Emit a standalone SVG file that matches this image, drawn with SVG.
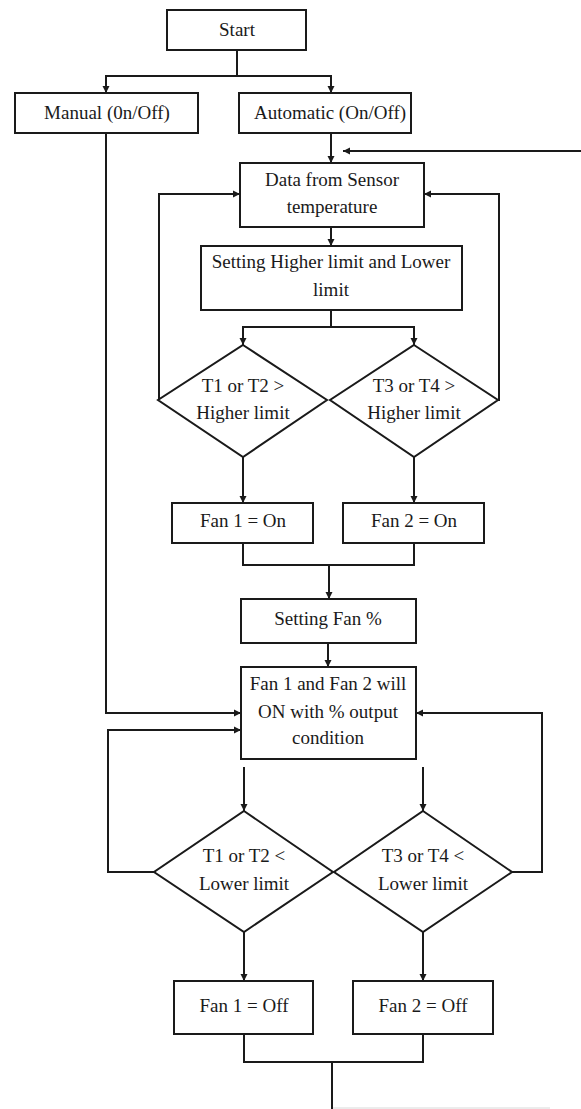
<svg xmlns="http://www.w3.org/2000/svg" width="581" height="1109" viewBox="0 0 581 1109">
<style>
.n rect, .n polygon { fill: #fff; stroke: #1a1a1a; stroke-width: 2; }
.n text { font-family: "Liberation Serif", "Times New Roman", serif; font-size: 19px; fill: #1a1a1a; text-anchor: middle; }
#connectors path { fill: none; stroke: #1a1a1a; stroke-width: 2; }
#connectors path.a { marker-end: url(#arr); }
</style>
<defs>
<marker id="arr" markerUnits="userSpaceOnUse" markerWidth="8" markerHeight="8" refX="7" refY="4" orient="auto">
<path d="M0,0.5 L7,4 L0,7.5 z" fill="#1a1a1a"/>
</marker>
</defs>
<rect width="581" height="1109" fill="#fff"/>
<g id="connectors">
<path class="a" d="M237,50 V76 H106 V93"/>
<path class="a" d="M237,76 H331 V93"/>
<path class="a" d="M106,133 V713 H241"/>
<path class="a" d="M331,133 V163"/>
<path class="a" d="M581,151 H343"/>
<path class="a" d="M331,227 V246"/>
<path class="a" d="M331,310 V327 H243 V345"/>
<path class="a" d="M331,327 H414 V345"/>
<path class="a" d="M159,400 V194 H240"/>
<path class="a" d="M498,400 H499 V194 H424"/>
<path class="a" d="M243,457 V503"/>
<path class="a" d="M414,457 V503"/>
<path d="M243,543 V565 H414 V543"/>
<path class="a" d="M329,565 V599"/>
<path class="a" d="M328,643 V667"/>
<path class="a" d="M244,767 V811"/>
<path class="a" d="M423,767 V811"/>
<path class="a" d="M154,872 H108 V730 H241"/>
<path class="a" d="M512,872 H542 V713 H416"/>
<path class="a" d="M244,932 V981"/>
<path class="a" d="M423,932 V981"/>
<path d="M244,1034 V1062 H423 V1034"/>
<path d="M332,1062 V1109"/>
<path d="M333,1108 H550" style="stroke:#d8d8d8;stroke-width:1"/>
</g>
<g id="start" class="n"><rect x="167" y="10" width="139" height="40"/><text x="237" y="36">Start</text></g>
<g id="manual" class="n"><rect x="15" y="93" width="183" height="40"/><text x="107" y="119">Manual (0n/Off)</text></g>
<g id="automatic" class="n"><rect x="239" y="93" width="172" height="40"/><text x="330" y="119">Automatic (On/Off)</text></g>
<g id="data" class="n"><rect x="240" y="163" width="184" height="64"/><text x="332" y="186">Data from Sensor</text><text x="332" y="213">temperature</text></g>
<g id="setting" class="n"><rect x="201" y="246" width="261" height="64"/><text x="331" y="268">Setting Higher limit and Lower</text><text x="331" y="296">limit</text></g>
<g id="d1" class="n"><polygon points="243,345 327,400 243,457 158,400"/><text x="243" y="392">T1 or T2 &gt;</text><text x="243" y="419">Higher limit</text></g>
<g id="d2" class="n"><polygon points="414,345 498,400 414,457 330,400"/><text x="414" y="392">T3 or T4 &gt;</text><text x="414" y="419">Higher limit</text></g>
<g id="fan1on" class="n"><rect x="172" y="503" width="141" height="40"/><text x="243" y="527">Fan 1 = On</text></g>
<g id="fan2on" class="n"><rect x="343" y="503" width="141" height="40"/><text x="414" y="527">Fan 2 = On</text></g>
<g id="settingfan" class="n"><rect x="241" y="599" width="175" height="44"/><text x="328" y="625">Setting Fan %</text></g>
<g id="fanboth" class="n"><rect x="241" y="667" width="175" height="92"/><text x="328" y="690">Fan 1 and Fan 2 will</text><text x="328" y="718">ON with % output</text><text x="328" y="744">condition</text></g>
<g id="d3" class="n"><polygon points="244,811 333,872 244,932 154,872"/><text x="244" y="862">T1 or T2 &lt;</text><text x="244" y="890">Lower limit</text></g>
<g id="d4" class="n"><polygon points="423,811 512,872 423,932 334,872"/><text x="423" y="862">T3 or T4 &lt;</text><text x="423" y="890">Lower limit</text></g>
<g id="fan1off" class="n"><rect x="174" y="981" width="139" height="53"/><text x="244" y="1012">Fan 1 = Off</text></g>
<g id="fan2off" class="n"><rect x="353" y="981" width="140" height="53"/><text x="423" y="1012">Fan 2 = Off</text></g>
</svg>
